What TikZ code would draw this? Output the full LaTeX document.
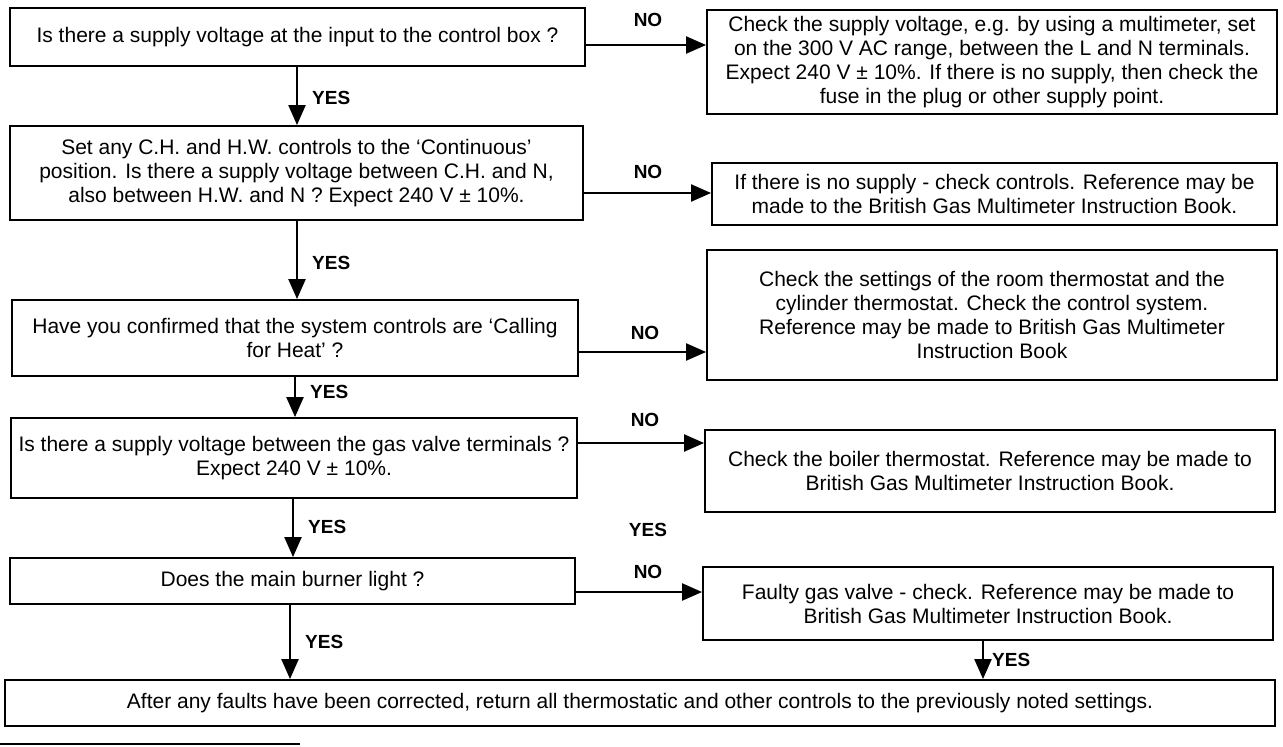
\documentclass[tikz,border=0pt]{standalone}
\usepackage{fontspec}
\setmainfont{Liberation Sans}
\usetikzlibrary{arrows.meta}
\tikzset{
  box/.style={draw, line width=1.9pt, rectangle, align=center, inner sep=0pt,
    font=\fontsize{21}{24}\selectfont},
  lbl/.style={font=\bfseries\fontsize{19}{21}\selectfont, inner sep=0pt},
  conn/.style={line width=2.3pt, -{Triangle[length=20pt,width=17pt]}},
}
\begin{document}
\begin{tikzpicture}[x=1pt,y=-1pt]
\useasboundingbox (0,0) rectangle (1283,747);
\fill[white] (0,0) rectangle (1283,747);

% left column
\node[box, minimum width=575pt, minimum height=58pt] (b1) at (297.5,37)
  {Is there a supply voltage at the input to the control box ?};
\node[box, minimum width=573pt, minimum height=94pt] (b2) at (296.5,173)
  {Set any C.H. and H.W. controls to the ‘Continuous’\\position. Is there a supply voltage between C.H. and N,\\also between H.W. and N ? Expect 240 V ± 10\%.};
\node[box, minimum width=566pt, minimum height=76pt] (b3) at (295,338)
  {Have you confirmed that the system controls are ‘Calling\\for Heat’ ?};
\node[box, minimum width=566pt, minimum height=80pt] (b4) at (294,458)
  {Is there a supply voltage between the gas valve terminals ?\\Expect 240 V ± 10\%.};
\node[box, minimum width=565pt, minimum height=46pt] (b5) at (292.5,581)
  {Does the main burner light ?};
\node[box, minimum width=1270pt, minimum height=46pt] (b6) at (640,703)
  {After any faults have been corrected, return all thermostatic and other controls to the previously noted settings.};

% right column
\node[box, minimum width=570pt, minimum height=104pt] (r1) at (992,62)
  {Check the supply voltage, e.g. by using a multimeter, set\\on the 300 V AC range, between the L and N terminals.\\Expect 240 V ± 10\%. If there is no supply, then check the\\fuse in the plug or other supply point.};
\node[box, minimum width=565pt, minimum height=62pt] (r2) at (994.5,194)
  {If there is no supply - check controls. Reference may be\\made to the British Gas Multimeter Instruction Book.};
\node[box, minimum width=570pt, minimum height=130pt] (r3) at (992,315)
  {Check the settings of the room thermostat and the\\cylinder thermostat. Check the control system.\\Reference may be made to British Gas Multimeter\\Instruction Book};
\node[box, minimum width=570pt, minimum height=82pt] (r4) at (990,471)
  {Check the boiler thermostat. Reference may be made to\\British Gas Multimeter Instruction Book.};
\node[box, minimum width=570pt, minimum height=73pt] (r5) at (988,603.5)
  {Faulty gas valve - check. Reference may be made to\\British Gas Multimeter Instruction Book.};

% helper coordinates
\coordinate (ya) at (0,45);
\coordinate (yb) at (0,193);
\coordinate (yc) at (0,352);
\coordinate (yd) at (0,443);
\coordinate (ye) at (0,592);
\coordinate (xa) at (297,0);
\coordinate (xb) at (297,0);
\coordinate (xc) at (295,0);
\coordinate (xd) at (293,0);
\coordinate (xe) at (290,0);
\coordinate (xf) at (983,0);

% NO connectors
\draw[conn] (b1.east |- ya) -- (r1.west |- ya);
\draw[conn] (b2.east |- yb) -- (r2.west |- yb);
\draw[conn] (b3.east |- yc) -- (r3.west |- yc);
\draw[conn] (b4.east |- yd) -- (r4.west |- yd);
\draw[conn] (b5.east |- ye) -- (r5.west |- ye);

% YES connectors
\draw[conn] (b1.south -| xa) -- (b2.north -| xa);
\draw[conn] (b2.south -| xb) -- (b3.north -| xb);
\draw[conn] (b3.south -| xc) -- (b4.north -| xc);
\draw[conn] (b4.south -| xd) -- (b5.north -| xd);
\draw[conn] (b5.south -| xe) -- (b6.north -| xe);
\draw[conn] (r5.south -| xf) -- (b6.north -| xf);

% labels
\node[lbl] (no1) at (648,20) {NO};
\node[lbl] (no2) at (648,172) {NO};
\node[lbl] (no3) at (645,333) {NO};
\node[lbl] (no4) at (645,420) {NO};
\node[lbl] (no5) at (648,572) {NO};
\node[lbl] (yesm) at (648,530) {YES};
\node[lbl, anchor=west] (yes1) at (312,98) {YES};
\node[lbl, anchor=west] (yes2) at (312,263) {YES};
\node[lbl, anchor=west] (yes3) at (310,392) {YES};
\node[lbl, anchor=west] (yes4) at (308,527) {YES};
\node[lbl, anchor=west] (yes5) at (305,642) {YES};
\node[lbl, anchor=west] (yes6) at (992,660) {YES};

% stray rule at the bottom left
\draw[line width=1.5pt] (0,744) -- (300,744);
\end{tikzpicture}
\end{document}
